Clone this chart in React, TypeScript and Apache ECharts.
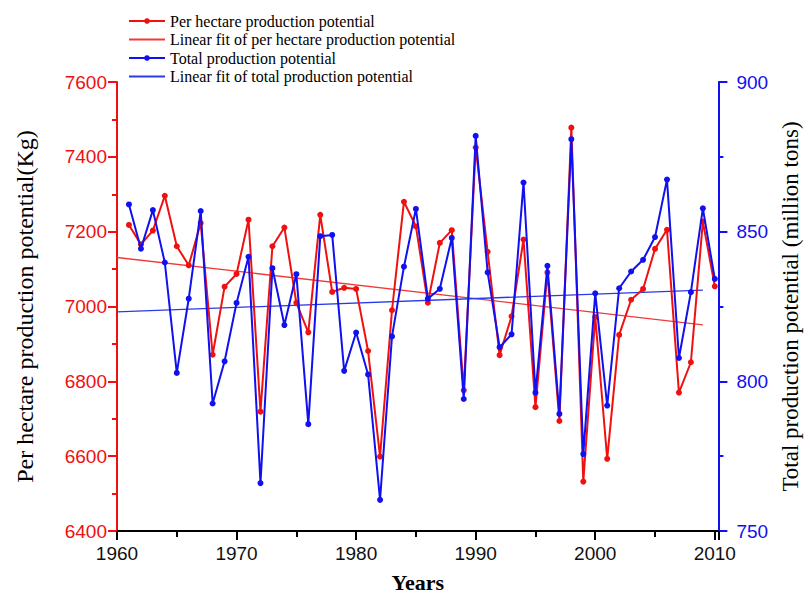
import React, { useEffect, useRef } from "react";
import * as echarts from "echarts";

const years = [
  1961, 1962, 1963, 1964, 1965, 1966, 1967, 1968, 1969, 1970,
  1971, 1972, 1973, 1974, 1975, 1976, 1977, 1978, 1979, 1980,
  1981, 1982, 1983, 1984, 1985, 1986, 1987, 1988, 1989, 1990,
  1991, 1992, 1993, 1994, 1995, 1996, 1997, 1998, 1999, 2000,
  2001, 2002, 2003, 2004, 2005, 2006, 2007, 2008, 2009, 2010,
];

const perHectare = [
  7218, 7166, 7203, 7296, 7161, 7110, 7223, 6871, 7053, 7087,
  7232, 6719, 7161, 7211, 7010, 6931, 7245, 7039, 7050, 7047,
  6881, 6599, 6990, 7280, 7214, 7010, 7170, 7204, 6776, 7425,
  7146, 6870, 6974, 7179, 6731, 7091, 6694, 7478, 6532, 6972,
  6593, 6924, 7018, 7047, 7154, 7205, 6770, 6851, 7227, 7054,
];

const totalProd = [
  859.1, 844.3, 857.2, 839.7, 802.8, 827.6, 856.9, 792.6, 806.7, 826.2,
  841.6, 766.0, 837.8, 818.8, 835.8, 785.7, 848.5, 848.9, 803.5, 816.3,
  802.3, 760.4, 815.0, 838.3, 857.6, 827.6, 830.9, 847.9, 794.1, 882.0,
  836.4, 811.4, 815.7, 866.4, 796.2, 838.6, 789.1, 880.9, 775.7, 829.4,
  791.9, 831.1, 836.7, 840.6, 848.2, 867.4, 807.8, 829.8, 857.8, 834.2,
];

const fitYears = [1960, 2009];
const perHectareFit = [7131, 6951];
const totalFit = [823.2, 830.5];

const leftTicks = { min: 6400, max: 7600, interval: 200 };
const rightTicks = { min: 750, max: 900, interval: 50 };
const xTicks = { min: 1960, max: 2010.3, interval: 10 };

const RED = "#f01010";
const BLUE = "#1010f0";
const RED_FIT = "#f03a3a";
const BLUE_FIT = "#2a3ae8";

export default function App() {
  const ref = useRef<HTMLDivElement>(null);
  useEffect(() => {
    if (!ref.current) return;
    const chart = echarts.init(ref.current, undefined, { renderer: "svg" });
    const pair = (xs: number[], ys: number[]) => xs.map((x, i) => [x, ys[i]]);
    const numFmt = (v: number) => (Number.isInteger(v) ? String(v) : "");
    chart.setOption({
      animation: false,
      backgroundColor: "#ffffff",
      grid: { left: 117, right: 75, top: 82, bottom: 59, containLabel: false },
      legend: {
        orient: "vertical",
        left: 123,
        top: 8,
        itemWidth: 36,
        itemHeight: 7,
        itemGap: 2.5,
        textStyle: { fontFamily: "Liberation Serif", fontSize: 16, lineHeight: 16, color: "#000" },
        data: [
          { name: "Per hectare production potential" },
          { name: "Linear fit of per hectare production potential", itemStyle: { opacity: 0 } },
          { name: "Total production potential" },
          { name: "Linear fit of total production potential", itemStyle: { opacity: 0 } },
        ],
      },
      xAxis: {
        type: "value",
        min: xTicks.min,
        max: xTicks.max,
        interval: xTicks.interval,
        name: "Years",
        nameLocation: "middle",
        nameGap: 40,
        nameTextStyle: { fontFamily: "Liberation Serif", fontSize: 22, fontWeight: "bold", color: "#000" },
        axisLine: { lineStyle: { color: "#000", width: 2 } },
        axisTick: { length: 9, lineStyle: { color: "#000", width: 2 } },
        minorTick: { show: true, splitNumber: 2, length: 6, lineStyle: { color: "#000", width: 2 } },
        axisLabel: { formatter: numFmt, fontFamily: "Liberation Sans", fontSize: 19, color: "#111", margin: 13 },
        splitLine: { show: false },
      },
      yAxis: [
        {
          type: "value",
          position: "left",
          min: leftTicks.min,
          max: leftTicks.max,
          interval: leftTicks.interval,
          name: "Per hectare production potential(Kg)",
          nameLocation: "middle",
          nameRotate: 90,
          nameGap: 80,
          nameTextStyle: { fontFamily: "Liberation Serif", fontSize: 24, color: "#000" },
          axisLine: { show: true, lineStyle: { color: RED, width: 2 } },
          axisTick: { show: true, length: 9, lineStyle: { color: RED, width: 2 } },
          minorTick: { show: true, splitNumber: 2, length: 5, lineStyle: { color: RED, width: 2 } },
          axisLabel: { formatter: numFmt, fontFamily: "Liberation Sans", fontSize: 19, color: RED, margin: 10 },
          splitLine: { show: false },
        },
        {
          type: "value",
          position: "right",
          min: rightTicks.min,
          max: rightTicks.max,
          interval: rightTicks.interval,
          name: "Total production potential (million tons)",
          nameLocation: "middle",
          nameRotate: 90,
          nameGap: 54,
          nameTextStyle: { fontFamily: "Liberation Serif", fontSize: 23, color: "#000" },
          axisLine: { show: true, lineStyle: { color: BLUE, width: 2 } },
          axisTick: { show: true, length: 9, lineStyle: { color: BLUE, width: 2 } },
          minorTick: { show: true, splitNumber: 2, length: 5, lineStyle: { color: BLUE, width: 2 } },
          axisLabel: { formatter: numFmt, fontFamily: "Liberation Sans", fontSize: 19, color: BLUE, margin: 18 },
          splitLine: { show: false },
        },
      ],
      series: [
        {
          name: "Per hectare production potential",
          type: "line",
          yAxisIndex: 0,
          data: pair(years, perHectare),
          symbol: "circle",
          symbolSize: 6,
          itemStyle: { color: RED },
          lineStyle: { color: RED, width: 2 },
          z: 3,
        },
        {
          name: "Linear fit of per hectare production potential",
          type: "line",
          yAxisIndex: 0,
          data: pair(fitYears, perHectareFit),
          symbol: "none",
          itemStyle: { color: RED_FIT },
          lineStyle: { color: RED_FIT, width: 1.3 },
          z: 2,
        },
        {
          name: "Total production potential",
          type: "line",
          yAxisIndex: 1,
          data: pair(years, totalProd),
          symbol: "circle",
          symbolSize: 6,
          itemStyle: { color: BLUE },
          lineStyle: { color: BLUE, width: 2 },
          z: 4,
        },
        {
          name: "Linear fit of total production potential",
          type: "line",
          yAxisIndex: 1,
          data: pair(fitYears, totalFit),
          symbol: "none",
          itemStyle: { color: BLUE_FIT },
          lineStyle: { color: BLUE_FIT, width: 1.3 },
          z: 2,
        },
      ],
    });
    return () => chart.dispose();
  }, []);
  return <div ref={ref} style={{ width: 810, height: 598, position: "absolute", left: 0, top: 0 }} />;
}
